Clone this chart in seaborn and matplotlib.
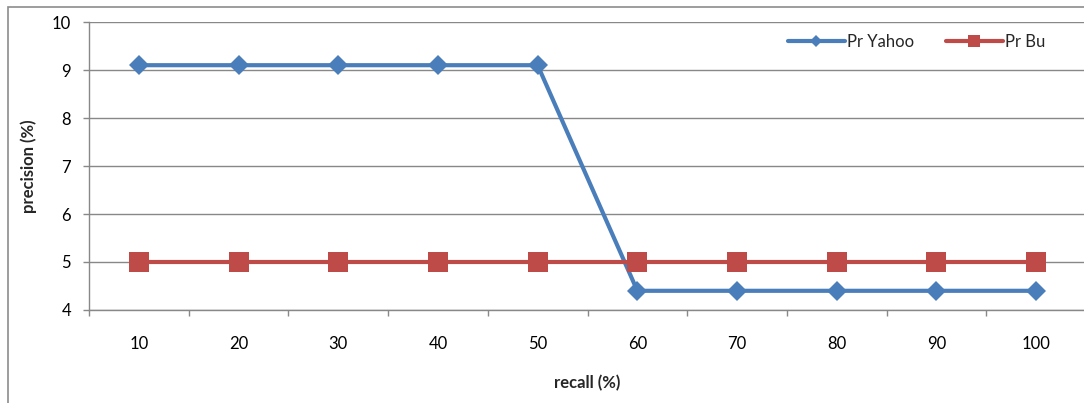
import matplotlib
matplotlib.use("Agg")
import matplotlib.pyplot as plt
from matplotlib.patches import Rectangle
import seaborn as sns
import pandas as pd

recall = ["10", "20", "30", "40", "50", "60", "70", "80", "90", "100"]
pr_yahoo = [9.1, 9.1, 9.1, 9.1, 9.1, 4.4, 4.4, 4.4, 4.4, 4.4]
pr_bu = [5, 5, 5, 5, 5, 5, 5, 5, 5, 5]

sns.set_theme(style="white")
plt.rcParams["font.family"] = ["Lato", "DejaVu Sans"]

W, H = 1084, 403
fig = plt.figure(figsize=(W / 100, H / 100), dpi=100)
ax = fig.add_axes([89 / W, (H - 310) / H, 997 / W, 288 / H])

pos = list(range(len(recall)))
df = pd.DataFrame({"pos": pos, "Pr Yahoo": pr_yahoo, "Pr Bu": pr_bu})

blue = "#4A7EBB"
red = "#BE4B48"
grid = "#888888"

sns.lineplot(data=df, x="pos", y="Pr Yahoo", ax=ax, color=blue, lw=3,
             marker="D", markersize=10.5, markeredgewidth=0, label="Pr Yahoo",
             zorder=3, clip_on=False)
sns.lineplot(data=df, x="pos", y="Pr Bu", ax=ax, color=red, lw=3,
             marker="s", markersize=14.5, markeredgewidth=0, label="Pr Bu",
             zorder=3, clip_on=False)

ax.set_xlim(-0.5, len(recall) - 0.5)
ax.set_ylim(4, 10)
ax.set_yticks(range(4, 11))
ax.set_xticks(pos)
ax.set_xticklabels(recall)
ax.set_xticks([p - 0.5 for p in pos] + [len(recall) - 0.5], minor=True)

ax.yaxis.grid(True, color=grid, lw=1)
ax.xaxis.grid(False)
ax.set_axisbelow(True)
for s in ["top", "right"]:
    ax.spines[s].set_visible(False)
for s in ["left", "bottom"]:
    ax.spines[s].set_color(grid)
    ax.spines[s].set_linewidth(1)

ax.tick_params(axis="y", which="major", left=True, length=4, width=1,
               color=grid, pad=9, labelsize=12, labelcolor="black")
ax.tick_params(axis="x", which="major", bottom=False, length=0, pad=19,
               labelsize=12, labelcolor="black")
ax.tick_params(axis="x", which="minor", bottom=True, length=4, width=1,
               color=grid)

ax.set_xlabel("recall (%)", fontsize=12, fontweight="bold")
ax.set_ylabel("precision (%)", fontsize=12, fontweight="bold")
ax.xaxis.set_label_coords(0.5, -(375 - 310) / 288, transform=ax.transAxes)
ax.yaxis.set_label_coords(-(89 - 37) / 997, 0.5, transform=ax.transAxes)

leg = ax.legend(loc="center left", bbox_to_anchor=(788 / W, 1 - 42 / H),
                bbox_transform=fig.transFigure, ncol=2, frameon=False,
                fontsize=12, handlelength=3.4, handletextpad=0.15,
                columnspacing=1.9, borderpad=0, borderaxespad=0,
                markerscale=0.6)

# outer chart frame
fig.add_artist(Rectangle((8 / W, -0.1), 1.2, 1.1 - 7 / H,
                         transform=fig.transFigure, fill=False,
                         edgecolor="#8c8c8c", lw=1.2))

fig.savefig("out.png", dpi=100)
